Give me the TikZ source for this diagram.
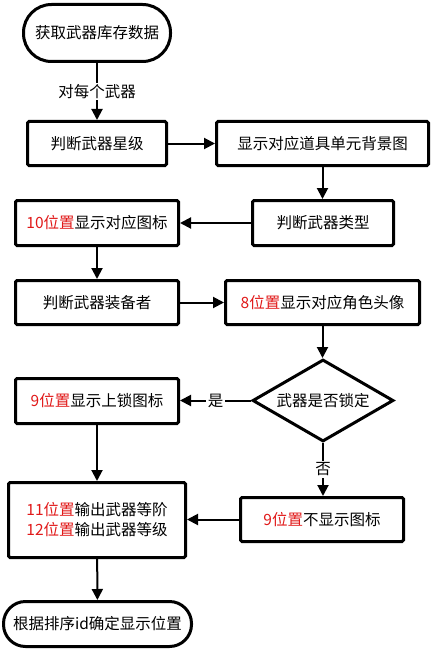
\documentclass[tikz,border=0pt]{standalone}
\usepackage{fontspec}
\setmainfont{Noto Sans CJK SC}
\usetikzlibrary{shapes.geometric,arrows.meta}
\definecolor{redtxt}{RGB}{225,25,25}
\newcommand{\rt}[1]{\textcolor{redtxt}{#1}}
\begin{document}
\begin{tikzpicture}[x=1pt,y=-1pt,
  every node/.style={font=\fontsize{15.5}{20}\selectfont, inner sep=0pt},
  box/.style={draw, line width=3pt, rounded corners=1.5pt, fill=white},
  term/.style={draw, line width=3pt, rounded corners=22pt, fill=white},
  dia/.style={draw, diamond, line width=3pt, aspect=1.72, fill=white},
  arr/.style={line width=2pt, -{Triangle[length=11pt,width=11pt]}},
  lab/.style={fill=white, inner sep=1.5pt}]
\useasboundingbox (0,0) rectangle (432,650);
\node[term, minimum width=147pt, minimum height=57pt, rounded corners=28pt] (start) at (97,33) {获取武器库存数据};
\node[box, minimum width=139pt, minimum height=44pt] (b1) at (97,143.5) {判断武器星级};
\node[box, minimum width=212pt, minimum height=44pt] (b2) at (322.5,143.5) {显示对应道具单元背景图};
\node[box, minimum width=141pt, minimum height=45pt] (b3) at (323,223) {判断武器类型};
\node[box, minimum width=163pt, minimum height=45pt] (b4) at (97,223) {\rt{10位置}显示对应图标};
\node[box, minimum width=163pt, minimum height=44pt] (b5) at (97,302.5) {判断武器装备者};
\node[box, minimum width=194pt, minimum height=44pt] (b6) at (322.5,302.5) {\rt{8位置}显示对应角色头像};
\node[dia, minimum width=141pt, minimum height=82pt] (d) at (323,400.5) {武器是否锁定};
\node[box, minimum width=163pt, minimum height=45pt] (b7) at (97,401) {\rt{9位置}显示上锁图标};
\node[box, minimum width=177pt, minimum height=75pt, align=center] (b8) at (97,520) {\rt{11位置}输出武器等阶\\\rt{12位置}输出武器等级};
\node[box, minimum width=163pt, minimum height=44pt] (b9) at (322,519.5) {\rt{9位置}不显示图标};
\node[term, minimum width=188pt, minimum height=45pt] (end) at (97.5,624) {根据排序id确定显示位置};

\draw[arr] (start) -- node[lab] {对每个武器} (b1);
\draw[arr] (b1) -- (b2);
\draw[arr] (b2.south) -- (b2.south |- b3.north);
\draw[arr] (b3) -- (b4);
\draw[arr] (b4) -- (b5);
\draw[arr] (b5) -- (b6);
\draw[arr] (b6.south) -- (b6.south |- d.north);
\draw[arr] (d.west) -- node[lab] {是} (d.west -| b7.east);
\draw[arr] (d.south) -- node[lab] {否} (d.south |- b9.north);
\draw[arr] (b9.west) -- (b9.west -| b8.east);
\draw[arr] (b7) -- (b8);
\draw[arr] (b8) -- (end);
\end{tikzpicture}
\end{document}
